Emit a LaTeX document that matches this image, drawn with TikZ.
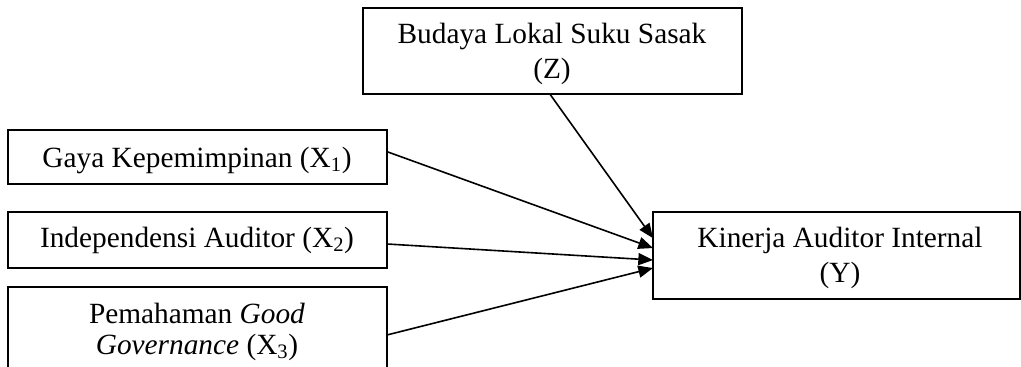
\documentclass[tikz,border=0pt]{standalone}
\usepackage{fontspec}
\setmainfont{Liberation Serif}
\usetikzlibrary{arrows.meta}
\tikzset{
  frame/.style={draw, line width=1.4pt, inner sep=0pt, outer sep=0pt},
  caption/.style={font=\fontsize{22}{26}\selectfont, align=center, inner sep=0pt},
  link/.style={line width=1.2pt, -{Triangle[length=11pt,width=9pt]}},
}
\begin{document}
\begin{tikzpicture}[x=0.75pt,y=-0.75pt]
\useasboundingbox (0,0) rectangle (1021,367);
\clip (0,0) rectangle (1021,367);

% variable boxes
\node[frame, minimum width=379*0.75pt, minimum height=86*0.75pt] (z) at (552.5,51) {};
\node[frame, minimum width=379*0.75pt, minimum height=54*0.75pt] (x1) at (197.5,157) {};
\node[frame, minimum width=379*0.75pt, minimum height=56*0.75pt] (x2) at (197.5,240) {};
\node[frame, minimum width=379*0.75pt, minimum height=113*0.75pt] (x3) at (197.5,343.5) {};
\node[frame, minimum width=367*0.75pt, minimum height=87*0.75pt] (y) at (836.5,255.5) {};

% box captions
\node[caption] (zt) at (552,54) {Budaya Lokal Suku Sasak\\(Z)};
\node[caption] (x1t) at (197,160) {Gaya Kepemimpinan (X\textsubscript{1})};
\node[caption] (x2t) at (197,240) {Independensi Auditor (X\textsubscript{2})};
\node[caption, font=\fontsize{22}{23}\selectfont] (x3t) at (197,332) {Pemahaman \textit{Good}\\\textit{Governance} (X\textsubscript{3})};
\node[caption] (yt) at (840,258) {Kinerja Auditor Internal\\(Y)};

% paths into the dependent variable
\draw[link] ([xshift=-2pt]z.south) -- ([yshift=13pt]y.west);
\draw[link] ([yshift=4pt]x1.east) -- ([yshift=5.6pt]y.west);
\draw[link] ([yshift=-3pt]x2.east) -- ([yshift=-3.4pt]y.west);
\draw[link] ([yshift=6.4pt]x3.east) -- ([yshift=-9.4pt]y.west);
\end{tikzpicture}
\end{document}
